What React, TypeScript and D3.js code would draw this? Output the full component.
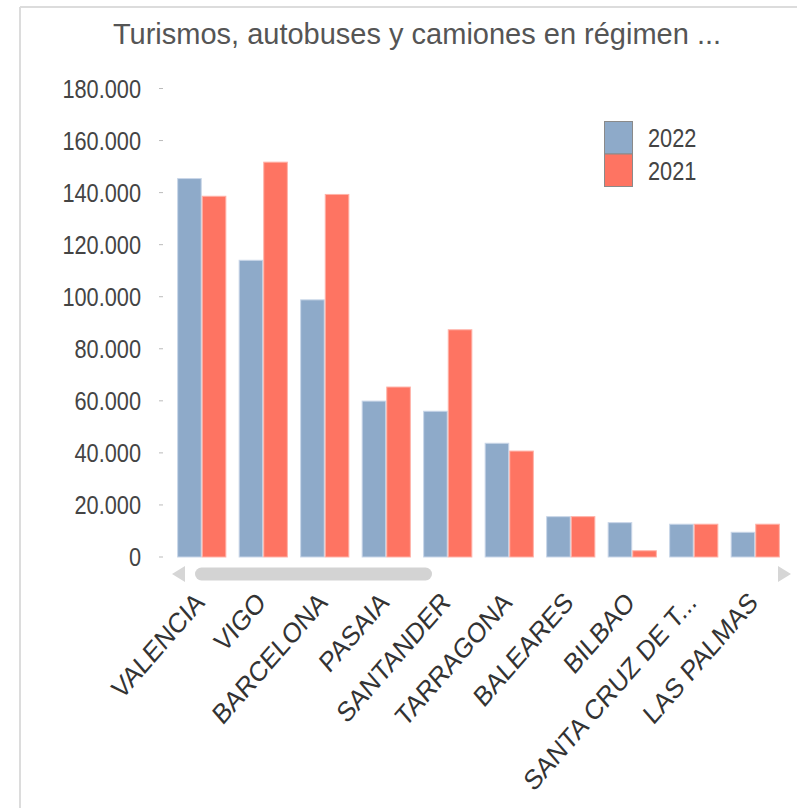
import React from "react";
import * as d3 from "d3";

const categories = ["VALENCIA", "VIGO", "BARCELONA", "PASAIA", "SANTANDER", "TARRAGONA", "BALEARES", "BILBAO", "SANTA CRUZ DE T...", "LAS PALMAS"];
const values2022 = [145400, 114000, 98800, 59900, 56000, 43700, 15500, 13200, 12600, 9500];
const values2021 = [138600, 151700, 139300, 65300, 87300, 40700, 15500, 2400, 12600, 12600];
const seriesNames = ["2022", "2021"];
const yTicks = [0, 20000, 40000, 60000, 80000, 100000, 120000, 140000, 160000, 180000];
const title = "Turismos, autobuses y camiones en régimen ...";

const colors = ["#8eaac9", "#fe7462"];
const strokes = ["#c9d6e8", "#ffb2a8"];

const W = 797;
const H = 808;
const SQ = 0.87;

export default function App() {
  const x = d3.scaleBand<string>().domain(categories).range([171, 786]).paddingInner(0.2).paddingOuter(0.1);
  const x1 = d3.scaleBand<string>().domain(seriesNames).range([0, x.bandwidth()]);
  const y = d3.scaleLinear().domain([0, 180000]).range([557, 88.5]);
  const fmt = (v: number) => d3.format(",")(v).replace(/,/g, ".");
  const series = [values2022, values2021];
  const font = "'Liberation Sans', Arial, sans-serif";

  return (
    <svg width={W} height={H} style={{ position: "absolute", left: 0, top: 0, display: "block", background: "#fff" }}>
      <line x1={20} y1={7} x2={W} y2={7} stroke="#dcdcdc" strokeWidth={2} />
      <line x1={20} y1={7} x2={20} y2={H} stroke="#dcdcdc" strokeWidth={2} />
      <text x={417} y={44} textAnchor="middle" fontFamily={font} fontSize={29} fill="#555">{title}</text>

      {yTicks.map((t) => (
        <g key={t}>
          <line x1={159} x2={163} y1={y(t)} y2={y(t)} stroke="#bbb" strokeWidth={1} />
          <text transform={`translate(141,${y(t)}) scale(${SQ},1)`} dy="0.36em" textAnchor="end" fontFamily={font} fontSize={25} fill="#444">{fmt(t)}</text>
        </g>
      ))}

      {categories.map((c, i) => (
        <g key={c} transform={`translate(${x(c)},0)`}>
          {series.map((s, k) => (
            <rect key={k} x={x1(seriesNames[k])! + 0.5} y={y(s[i])} width={x1.bandwidth() - 1} height={y(0) - y(s[i])}
              fill={colors[k]} stroke={strokes[k]} strokeWidth={1} />
          ))}
        </g>
      ))}

      {/* scrollbar */}
      <path d="M172,574 L185,566 L185,582 Z" fill="#d6d6d6" />
      <path d="M791,574 L778,566 L778,582 Z" fill="#d6d6d6" />
      <rect x={195} y={567.5} width={237} height={13} rx={6.5} fill="#d3d3d3" />

      {categories.map((c) => {
        const cx = x(c)! + x.bandwidth() / 2 + 4;
        const cy = 604;
        return (
          <text key={c} transform={`translate(${cx},${cy}) scale(${SQ},1) rotate(-45)`} textAnchor="end"
            fontFamily={font} fontSize={28} fill="#333">{c}</text>
        );
      })}

      {/* legend */}
      {seriesNames.map((n, k) => (
        <g key={n}>
          <rect x={604.5} y={121.5 + k * 32.5} width={28} height={32.5} fill={colors[k]} stroke="#8a8a8a" strokeWidth={1} />
          <text transform={`translate(648,${138 + k * 32.5}) scale(${SQ},1)`} dy="0.36em" fontFamily={font} fontSize={25} fill="#444">{n}</text>
        </g>
      ))}
    </svg>
  );
}
